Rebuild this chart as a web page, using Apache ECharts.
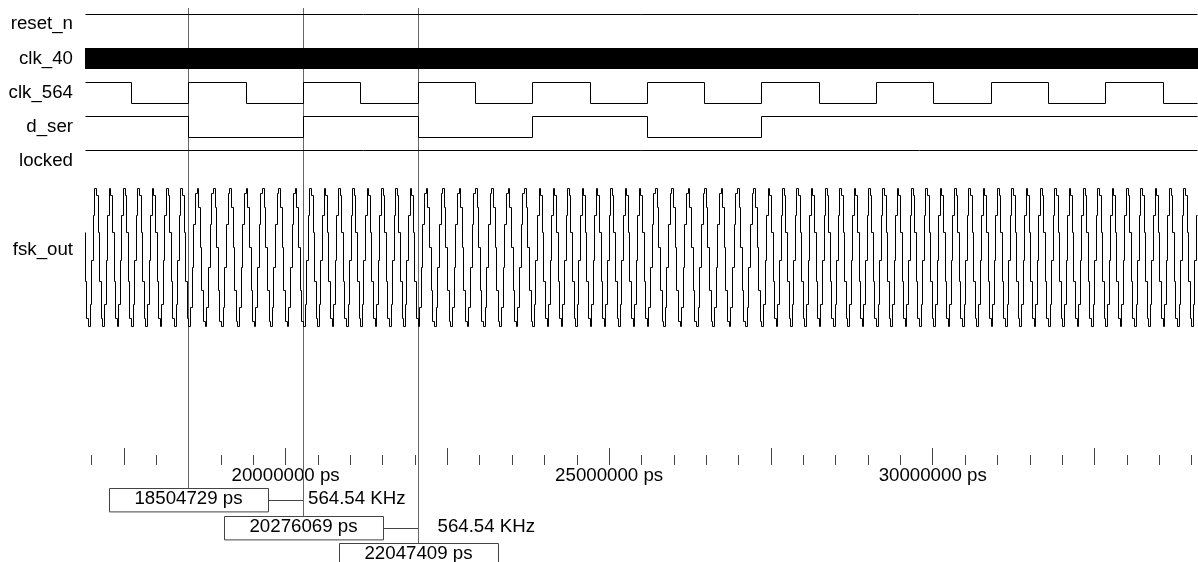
<!DOCTYPE html>
<html><head><meta charset="utf-8">
<script src="https://cdn.jsdelivr.net/npm/echarts@6/dist/echarts.min.js"></script>
<style>html,body{margin:0;padding:0;background:#fff}#c{width:1198px;height:562px}</style>
</head><body><div id="c"></div>
<script>
// ---------- data (times in ps) ----------
const signalNames = ['reset_n', 'clk_40', 'clk_564', 'd_ser', 'locked', 'fsk_out'];
const viewStart = 16900000;
const viewEnd = 34100000;

const resetN = [[16900000, 1], [34100000, 1]];
const locked = [[16900000, 1], [34100000, 1]];
// 40 MHz clock: toggles are far below one pixel, shown as a solid band
const clk40Band = [[16900000, 1], [34100000, 1]];

const clk564 = [[16733389, 1], [17619059, 0], [18504729, 1], [19390399, 0], [20276069, 1], [21161739, 0],
  [22047409, 1], [22933079, 0], [23818749, 1], [24704419, 0], [25590089, 1], [26475759, 0],
  [27361429, 1], [28247099, 0], [29132769, 1], [30018439, 0], [30904109, 1], [31789779, 0],
  [32675449, 1], [33561119, 0], [34446789, 1]];

const dSer = [[16733389, 1], [18504729, 0], [20276069, 1], [22047409, 0], [23818749, 1],
  [25590089, 0], [27361429, 1], [34446789, 1]];

// fsk_out: sine cycles counted per bit (high bit 8 cycles, low bit 7 cycles), DAC step levels of one cycle (0..100)
const cyclesPerBit = { 1: 8, 0: 7 };
const fskCycleHigh = [1, 17, 48, 80, 99, 94, 68, 33, 7];
const fskCycleLow = [1, 15, 43, 73, 95, 99, 85, 57, 27, 5];

const cursorTimes = [18504729, 20276069, 22047409];
const cursorLabels = ['18504729 ps', '20276069 ps', '22047409 ps'];
const freqLabels = ['564.54 KHz', '564.54 KHz'];

const minorTicks = [17000000, 17500000, 18000000, 18500000, 19000000, 19500000, 20000000, 20500000,
  21000000, 21500000, 22000000, 22500000, 23000000, 23500000, 24000000, 24500000, 25000000, 25500000,
  26000000, 26500000, 27000000, 27500000, 28000000, 28500000, 29000000, 29500000, 30000000, 30500000,
  31000000, 31500000, 32000000, 32500000, 33000000, 33500000, 34000000];
const majorTicks = [17500000, 20000000, 22500000, 25000000, 27500000, 30000000, 32500000];
const tickLabelValues = [20000000, 25000000, 30000000];
const tickUnit = ' ps';

// ---------- build fsk samples from bits ----------
function levelAt(trans, t) {
  let v = trans[0][1];
  for (const p of trans) { if (p[0] <= t) v = p[1]; }
  return v;
}
const bitEdges = clk564.filter(p => p[1] === 1).map(p => p[0]);
const fskOut = [];
for (let b = 0; b + 1 < bitEdges.length; b++) {
  const s = bitEdges[b], e = bitEdges[b + 1];
  const bit = levelAt(dSer, s);
  const cyc = bit ? fskCycleHigh : fskCycleLow;
  const n = cyclesPerBit[bit] * cyc.length;
  const dt = (e - s) / n;
  for (let k = 0; k < n; k++) fskOut.push([s + k * dt, cyc[k % cyc.length]]);
}
fskOut.push([bitEdges[bitEdges.length - 1], fskCycleHigh[0]]);

// transitions -> step segments [t, v, tNext, vNext]
const toSegments = tr => tr.slice(0, -1).map((p, k) => [p[0], p[1], tr[k + 1][0], tr[k + 1][1]]);

// ---------- layout ----------
const FONT = '"Liberation Sans", Arial, sans-serif';
const FS = 18.7;
const LEFT = 85;
// fsk: value 100 at 186.7px, 0 at 328.3px; grid stretched upward so its middle sits at the label row (250px)
const fskHi = 186.7, fskLo = 328.3, fskLabelY = 250;
const fskGridTop = 2 * fskLabelY - fskLo;
const fskMax = 100 * (fskLo - fskGridTop) / (fskLo - fskHi);
const rows = [
  { top: 14, h: 20.5, max: 1 },
  { top: 47.7, h: 21.6, max: 1 },
  { top: 82.3, h: 21, max: 1 },
  { top: 116.7, h: 20.4, max: 1 },
  { top: 150.7, h: 20.5, max: 1 },
  { top: fskGridTop, h: fskLo - fskGridTop, max: fskMax }
];
const seriesData = [resetN, clk40Band, clk564, dSer, locked, fskOut];
const L = { cursorTop: 8, boxTop0: 488.3, boxPitch: 27.2, boxW: 159, boxH: 23.4, connDy: 11.7, textDy: 10.3, freqDx: [4.5, 19] };

const snap = v => Math.floor(v) + 0.5;

function stepRender(params, api) {
  const cs = params.coordSys;
  const xmin = cs.x, xmax = cs.x + cs.width;
  const a = api.coord([api.value(0), api.value(1)]);
  const b = api.coord([api.value(2), api.value(3)]);
  if (b[0] < xmin || a[0] > xmax) return null;
  const x1 = snap(Math.max(xmin, a[0])), x2 = snap(Math.min(xmax - 0.5, b[0]));
  const y1 = snap(a[1]), y2 = snap(b[1]);
  const pts = [[x1, y1], [x2, y1]];
  if (y2 !== y1 && b[0] <= xmax) pts.push([x2, y2]);
  return { type: 'polyline', shape: { points: pts }, style: { stroke: '#000', lineWidth: 1, fill: null } };
}
function bandRender(params, api) {
  const cs = params.coordSys;
  const a = api.coord([api.value(0), api.value(1)]);
  const b = api.coord([api.value(2), 0]);
  const x1 = Math.max(cs.x, a[0]), x2 = Math.min(cs.x + cs.width, b[0]);
  const y1 = Math.round(a[1]), y2 = Math.round(b[1]);
  return { type: 'rect', shape: { x: x1, y: y1, width: x2 - x1, height: y2 - y1 }, style: { fill: '#000' } };
}

const grids = [], xAxes = [], yAxes = [], series = [];
rows.forEach((r, i) => {
  grids.push({ left: LEFT, right: 0, top: r.top, height: r.h });
  xAxes.push({ gridIndex: i, type: 'value', min: viewStart, max: viewEnd, show: false });
  yAxes.push({
    gridIndex: i, type: 'value', min: 0, max: r.max,
    name: signalNames[i], nameLocation: 'middle', nameGap: 12, nameRotate: 0,
    nameTextStyle: { align: 'right', verticalAlign: 'middle', fontSize: FS, color: '#000', fontFamily: FONT },
    axisLine: { show: false }, axisTick: { show: false }, axisLabel: { show: false }, splitLine: { show: false }
  });
  series.push({
    type: 'custom', xAxisIndex: i, yAxisIndex: i, data: toSegments(seriesData[i]),
    renderItem: i === 1 ? bandRender : stepRender, clip: false,
    animation: false, silent: true, z: 3
  });
});

// tick grid
const gT = rows.length;
grids.push({ left: LEFT, right: 0, top: 400, height: 65 });
xAxes.push({
  gridIndex: gT, type: 'value', min: viewStart, max: viewEnd, position: 'bottom',
  axisLine: { show: false }, splitLine: { show: false },
  axisTick: { show: true, inside: true, length: 10, customValues: minorTicks, lineStyle: { color: '#444', width: 1 } },
  axisLabel: { show: true, customValues: tickLabelValues, margin: 1, fontSize: FS, color: '#000', fontFamily: FONT,
    formatter: v => String(v) + tickUnit }
});
xAxes.push({
  gridIndex: gT, type: 'value', min: viewStart, max: viewEnd, position: 'bottom',
  axisLine: { show: false }, splitLine: { show: false }, axisLabel: { show: false },
  axisTick: { show: true, inside: true, length: 17, customValues: majorTicks, lineStyle: { color: '#444', width: 1 } }
});
yAxes.push({ gridIndex: gT, type: 'value', show: false });

// overlay grid for cursors
const gO = gT + 1;
grids.push({ left: LEFT, right: 0, top: 0, bottom: 0 });
xAxes.push({ gridIndex: gO, type: 'value', min: viewStart, max: viewEnd, show: false });
yAxes.push({ gridIndex: gO, type: 'value', min: 0, max: 1, show: false });

series.push({
  type: 'custom', xAxisIndex: xAxes.length - 1, yAxisIndex: yAxes.length - 1,
  data: cursorTimes.map(t => [t, 0]), animation: false, silent: true, z: 2, clip: false,
  renderItem(params, api) {
    const i = params.dataIndex;
    const x = snap(api.coord([api.value(0), 0])[0]);
    const boxTop = Math.round(L.boxTop0 + i * L.boxPitch) + 0.5;
    const children = [
      { type: 'line', shape: { x1: x, y1: L.cursorTop, x2: x, y2: boxTop }, style: { stroke: '#666', lineWidth: 1 } },
      { type: 'rect', shape: { x: Math.round(x - L.boxW / 2) + 0.5, y: boxTop, width: L.boxW, height: L.boxH }, style: { fill: '#fff', stroke: '#444', lineWidth: 1 } },
      { type: 'text', style: { x: x, y: boxTop + L.textDy, text: cursorLabels[i], align: 'center', verticalAlign: 'middle', fontSize: FS, fontFamily: FONT, fill: '#000' } }
    ];
    if (i + 1 < cursorTimes.length) {
      const xn = snap(api.coord([cursorTimes[i + 1], 0])[0]);
      const cy = Math.round(boxTop + L.connDy) + 0.5;
      children.push({ type: 'line', shape: { x1: Math.round(x - L.boxW / 2) + 0.5 + L.boxW, y1: cy, x2: xn, y2: cy }, style: { stroke: '#444', lineWidth: 1 } });
      children.push({ type: 'text', style: { x: xn + L.freqDx[i], y: boxTop + L.textDy, text: freqLabels[i], align: 'left', verticalAlign: 'middle', fontSize: FS, fontFamily: FONT, fill: '#000' } });
    }
    return { type: 'group', children };
  }
});

const chart = echarts.init(document.getElementById('c'), null, { renderer: 'canvas' });
chart.setOption({
  backgroundColor: '#fff',
  animation: false,
  textStyle: { fontFamily: FONT },
  grid: grids, xAxis: xAxes, yAxis: yAxes, series
});
</script></body></html>
